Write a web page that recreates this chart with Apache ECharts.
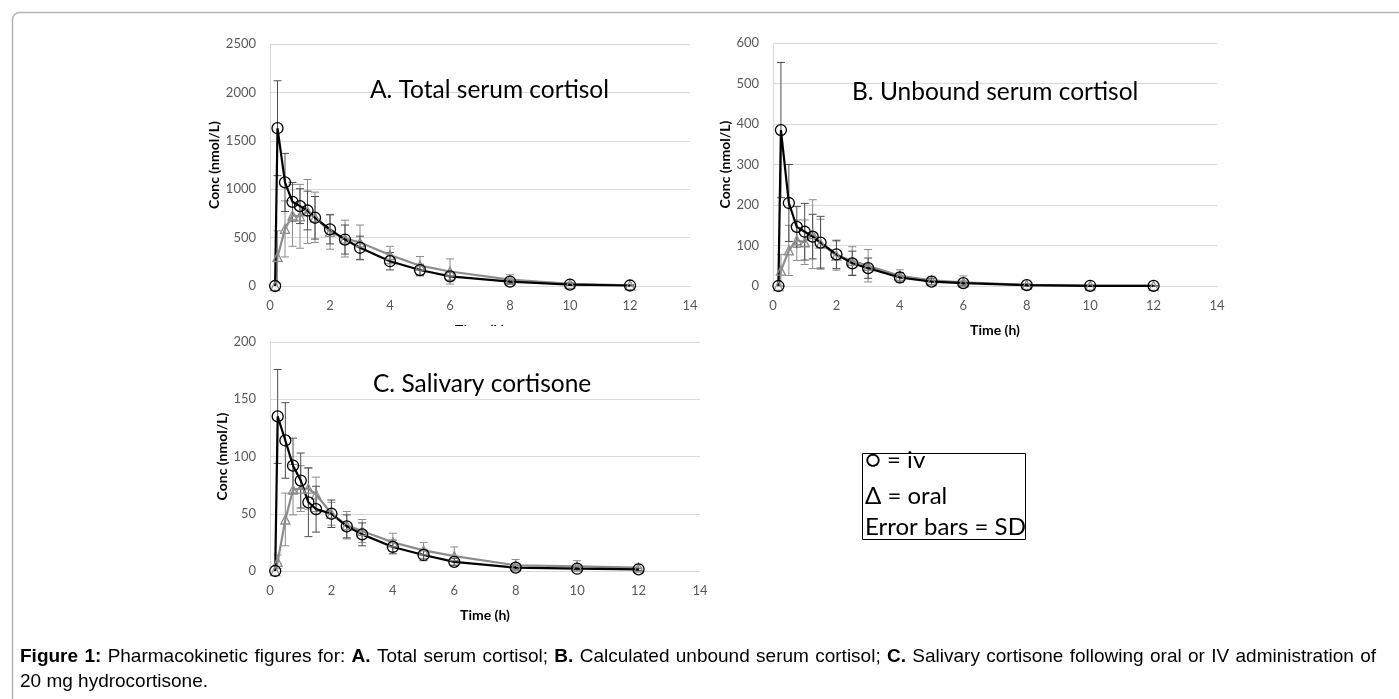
<!DOCTYPE html>
<html>
<head>
<meta charset="utf-8">
<style>
html,body{margin:0;padding:0;background:#fff;}
#chart{width:1399px;height:699px;}
</style>
<script src="https://cdn.jsdelivr.net/npm/echarts@6/dist/echarts.min.js"></script>
</head>
<body>
<div id="chart"></div>
<script>
// ---- data ----
const times = [0.17, 0.25, 0.5, 0.75, 1, 1.25, 1.5, 2, 2.5, 3, 4, 5, 6, 8, 10, 12];
const xTicks = [0, 2, 4, 6, 8, 10, 12, 14];

const totalIv     = [0, 1630, 1070, 870, 825, 780, 705, 585, 480, 395, 256, 165, 100, 45, 15, 5];
const totalOral   = [0, 300, 590, 730, 720, 770, 710, 560, 490, 450, 320, 210, 150, 65, 22, 8];
const totalIvSD   = [0, 490, 300, 200, 180, 200, 220, 150, 150, 120, 90, 60, 40, 20, 8, 4];
const totalOralSD = [0, 270, 290, 320, 330, 330, 260, 180, 190, 180, 90, 95, 130, 50, 15, 5];

const unboundIv     = [0, 385, 205, 146, 134, 122, 107, 78, 56, 44, 21, 11, 7, 2, 0.5, 0.3];
const unboundOral   = [0, 38, 88, 113, 108, 128, 105, 75, 62, 50, 25, 14, 9, 3, 1, 0.5];
const unboundIvSD   = [0, 167, 95, 50, 70, 55, 65, 35, 30, 25, 12, 8, 5, 2, 0.5, 0.3];
const unboundOralSD = [0, 40, 62, 50, 55, 85, 60, 36, 35, 40, 15, 10, 16, 3, 1, 0.5];

const salivaIv     = [0, 135, 114, 92, 79, 60, 54, 50, 39, 32, 21, 14, 8, 3, 2, 1.5];
const salivaOral   = [0, 8, 45, 71, 72, 72, 67, 50, 40, 35, 25, 18, 13, 5, 4, 3];
const salivaIvSD   = [0, 41, 33, 24, 24, 30, 20, 12, 10, 10, 6, 5, 3, 2, 1, 1];
const salivaOralSD = [0, 6, 23, 22, 20, 18, 15, 10, 12, 10, 8, 7, 8, 5, 5, 3];

const panelTitles = ['A. Total serum cortisol', 'B. Unbound serum cortisol', 'C. Salivary cortisone'];
const yMax = [2500, 600, 200];
const yStep = [500, 100, 50];
const yName = 'Conc (nmol/L)';
const xName = 'Time (h)';
const legendLines = ['\u25CB = iv', '\u0394 = oral', 'Error bars = SD'];
// caption line 1 words (bold flag), justified; line 2 left aligned
const captionWords = ['Figure', '1:', 'Pharmacokinetic', 'figures', 'for:', 'A.', 'Total', 'serum', 'cortisol;',
  'B.', 'Calculated', 'unbound', 'serum', 'cortisol;', 'C.', 'Salivary', 'cortisone', 'following', 'oral', 'or',
  'IV', 'administration', 'of'];
const captionBoldWords = ['Figure', '1:', 'A.', 'B.', 'C.'];
const captionLine2 = '20 mg hydrocortisone.';

// ---- build ----
const FONT = 'Lato, "Open Sans", sans-serif';
const CAPFONT = '"Liberation Sans", Arial, sans-serif';
const CAPSIZE = 19;
const ivColor = '#000000';
const oralColor = '#8c8c8c';

function pairs(vals) { return times.map((t, i) => [t, vals[i]]); }
function bars(vals, sd) {
  const out = [];
  times.forEach((t, i) => { if (sd[i] > 0) out.push([t, Math.max(0, vals[i] - sd[i]), vals[i] + sd[i]]); });
  return out;
}
function errSeries(idx, vals, sd, color) {
  return {
    type: 'custom', xAxisIndex: idx, yAxisIndex: idx, z: 1, silent: true,
    encode: { x: 0, y: [1, 2] },
    data: bars(vals, sd),
    renderItem: function (params, api) {
      const x = api.value(0), lo = api.value(1), hi = api.value(2);
      const p1 = api.coord([x, hi]), p2 = api.coord([x, lo]);
      const w = 4;
      const st = { stroke: color, lineWidth: 1 };
      return { type: 'group', children: [
        { type: 'line', shape: { x1: p1[0], y1: p1[1], x2: p2[0], y2: p2[1] }, style: st },
        { type: 'line', shape: { x1: p1[0] - w, y1: p1[1], x2: p1[0] + w, y2: p1[1] }, style: st },
        { type: 'line', shape: { x1: p2[0] - w, y1: p2[1], x2: p2[0] + w, y2: p2[1] }, style: st }
      ]};
    }
  };
}
function lineSeries(idx, vals, color, symbol, size) {
  return {
    type: 'line', xAxisIndex: idx, yAxisIndex: idx, z: 3,
    data: pairs(vals), symbol: symbol, symbolSize: size, showAllSymbol: true,
    lineStyle: { color: color, width: 2.2 },
    itemStyle: { color: 'rgba(255,255,255,0)', borderColor: color, borderWidth: 1.3 },
    emphasis: { disabled: true }
  };
}

const grids = [
  { left: 270, top: 44, width: 420, height: 242 },
  { left: 773, top: 43, width: 444, height: 243 },
  { left: 270, top: 342, width: 430, height: 229 }
];
const yNameGap = [43, 38, 37];

const xAxes = grids.map((g, i) => ({
  type: 'value', gridIndex: i, min: 0, max: 14, interval: 2,
  axisLine: { show: true, lineStyle: { color: '#d9d9d9', width: 1 } },
  axisTick: { show: false }, splitLine: { show: false },
  axisLabel: { color: '#595959', fontSize: 13, fontFamily: FONT, margin: 13 },
  name: xName, nameLocation: 'middle', nameGap: 37,
  nameTextStyle: { color: '#000', fontSize: 14, fontWeight: 'bold', fontFamily: FONT }
}));
const yAxes = grids.map((g, i) => ({
  type: 'value', gridIndex: i, min: 0, max: yMax[i], interval: yStep[i],
  axisLine: { show: true, lineStyle: { color: '#d9d9d9', width: 1 } },
  axisTick: { show: false },
  splitLine: { show: true, lineStyle: { color: '#d9d9d9', width: 1 } },
  axisLabel: { color: '#595959', fontSize: 13, fontFamily: FONT, margin: 14, formatter: v => String(v) },
  name: yName, nameLocation: 'middle', nameGap: yNameGap[i],
  nameTextStyle: { color: '#000', fontSize: 14, fontWeight: 'bold', fontFamily: FONT }
}));

const series = [
  errSeries(0, totalOral, totalOralSD, '#8c8c8c'),
  errSeries(0, totalIv, totalIvSD, '#4d4d4d'),
  lineSeries(0, totalOral, oralColor, 'triangle', 9),
  lineSeries(0, totalIv, ivColor, 'circle', 11),
  errSeries(1, unboundOral, unboundOralSD, '#8c8c8c'),
  errSeries(1, unboundIv, unboundIvSD, '#4d4d4d'),
  lineSeries(1, unboundOral, oralColor, 'triangle', 9),
  lineSeries(1, unboundIv, ivColor, 'circle', 11),
  errSeries(2, salivaOral, salivaOralSD, '#8c8c8c'),
  errSeries(2, salivaIv, salivaIvSD, '#4d4d4d'),
  lineSeries(2, salivaOral, oralColor, 'triangle', 9),
  lineSeries(2, salivaIv, ivColor, 'circle', 11)
];

const titlePos = [[370, 90], [852, 92], [373, 384]];
const graphics = [
  { type: 'rect', z: 10, silent: true, shape: { x: 12.5, y: 12.5, width: 1420, height: 720, r: 7 },
    style: { fill: 'none', stroke: '#b5b5b5', lineWidth: 1.5 } },
  // panel C chart area hides most of panel A's x-axis name
  { type: 'rect', z: 5, silent: true, shape: { x: 400, y: 326, width: 170, height: 14 }, style: { fill: '#fff' } },
  { type: 'rect', z: 5, silent: true, shape: { x: 862.5, y: 453.5, width: 163, height: 86 },
    style: { fill: '#fff', stroke: '#000', lineWidth: 1 } }
];
panelTitles.forEach((t, i) => {
  graphics.push({ type: 'text', z: 6, silent: true,
    style: { text: t, x: titlePos[i][0], y: titlePos[i][1], fill: '#000', fontSize: 24.5, fontFamily: FONT, align: 'left', verticalAlign: 'middle' } });
});
const legendY = [460, 496, 527];
legendLines.forEach((t, i) => {
  graphics.push({ type: 'text', z: 6, silent: true,
    style: { text: t, x: 865, y: legendY[i], fill: '#000', fontSize: 24, fontFamily: FONT, align: 'left', verticalAlign: 'middle' } });
});
// caption line 1, justified between x=20 and x=1376
(function () {
  const ctx = document.createElement('canvas').getContext('2d');
  const widths = captionWords.map(w => {
    const b = captionBoldWords.indexOf(w) >= 0;
    ctx.font = (b ? 'bold ' : '') + CAPSIZE + 'px ' + CAPFONT;
    return ctx.measureText(w).width;
  });
  const total = widths.reduce((a, b) => a + b, 0);
  const left = 20, right = 1376;
  const gap = (right - left - total) / (captionWords.length - 1);
  let x = left;
  captionWords.forEach((w, i) => {
    const b = captionBoldWords.indexOf(w) >= 0;
    graphics.push({ type: 'text', z: 6, silent: true,
      style: { text: w, x: x, y: 657, align: 'left', verticalAlign: 'middle', fill: '#000',
        fontSize: CAPSIZE, fontWeight: b ? 'bold' : 'normal', fontFamily: CAPFONT } });
    x += widths[i] + gap;
  });
})();
graphics.push({ type: 'text', z: 6, silent: true,
  style: { text: captionLine2, x: 20, y: 682, align: 'left', verticalAlign: 'middle', fill: '#000',
    fontSize: CAPSIZE, fontFamily: CAPFONT } });

const chart = echarts.init(document.getElementById('chart'), null, { renderer: 'canvas' });
chart.setOption({
  animation: false,
  backgroundColor: '#fff',
  grid: grids,
  xAxis: xAxes,
  yAxis: yAxes,
  series: series,
  graphic: graphics
});
</script>
</body>
</html>
